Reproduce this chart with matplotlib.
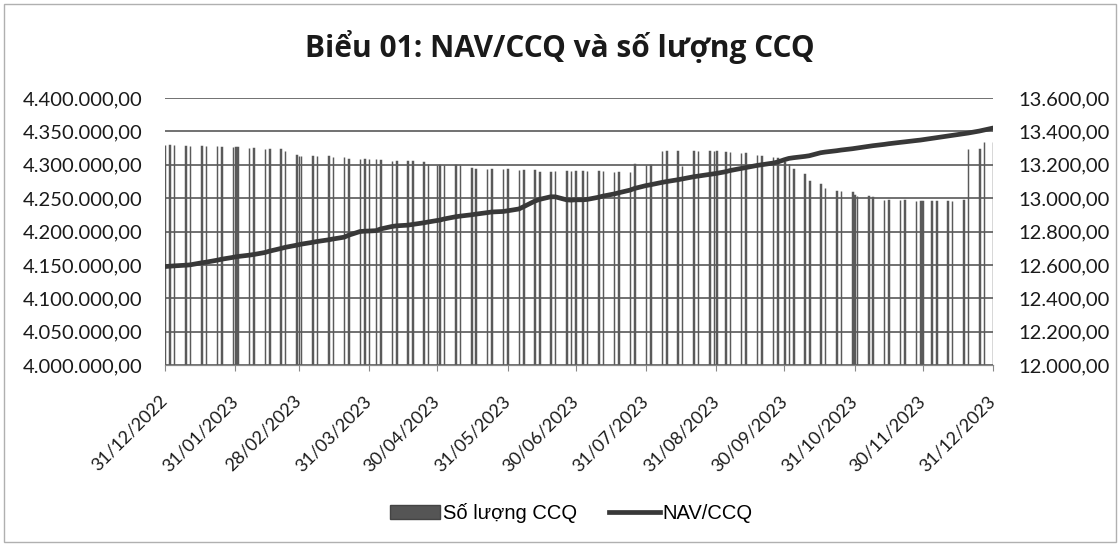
import numpy as np
import pandas as pd
import matplotlib
matplotlib.use("Agg")
import matplotlib.pyplot as plt
import matplotlib.dates as mdates
from matplotlib.ticker import FuncFormatter, MultipleLocator
from matplotlib.patches import Patch, Rectangle
from matplotlib.lines import Line2D

# ngay bao cao (thu 2, thu 4 va cuoi thang)
ngay = [
    "2022-12-31",
    "2023-01-02", "2023-01-04", "2023-01-09", "2023-01-11", "2023-01-16", "2023-01-18",
    "2023-01-23", "2023-01-25", "2023-01-30", "2023-01-31",
    "2023-02-01", "2023-02-06", "2023-02-08", "2023-02-13", "2023-02-15", "2023-02-20",
    "2023-02-22", "2023-02-27", "2023-02-28",
    "2023-03-01", "2023-03-06", "2023-03-08", "2023-03-13", "2023-03-15", "2023-03-20",
    "2023-03-22", "2023-03-27", "2023-03-29", "2023-03-31",
    "2023-04-03", "2023-04-05", "2023-04-10", "2023-04-12", "2023-04-17", "2023-04-19",
    "2023-04-24", "2023-04-26", "2023-04-30",
    "2023-05-01", "2023-05-03", "2023-05-08", "2023-05-10", "2023-05-15", "2023-05-17",
    "2023-05-22", "2023-05-24", "2023-05-29", "2023-05-31",
    "2023-06-05", "2023-06-07", "2023-06-12", "2023-06-14", "2023-06-19", "2023-06-21",
    "2023-06-26", "2023-06-28", "2023-06-30",
    "2023-07-03", "2023-07-05", "2023-07-10", "2023-07-12", "2023-07-17", "2023-07-19",
    "2023-07-24", "2023-07-26", "2023-07-31",
    "2023-08-02", "2023-08-07", "2023-08-09", "2023-08-14", "2023-08-16", "2023-08-21",
    "2023-08-23", "2023-08-28", "2023-08-30", "2023-08-31",
    "2023-09-04", "2023-09-06", "2023-09-11", "2023-09-13", "2023-09-18", "2023-09-20",
    "2023-09-25", "2023-09-27", "2023-09-30",
    "2023-10-02", "2023-10-04", "2023-10-09", "2023-10-11", "2023-10-16", "2023-10-18",
    "2023-10-23", "2023-10-25", "2023-10-30", "2023-10-31",
    "2023-11-01", "2023-11-06", "2023-11-08", "2023-11-13", "2023-11-15", "2023-11-20",
    "2023-11-22", "2023-11-27", "2023-11-29", "2023-11-30",
    "2023-12-04", "2023-12-06", "2023-12-11", "2023-12-13", "2023-12-18", "2023-12-20",
    "2023-12-25", "2023-12-27", "2023-12-31",
]

so_luong_ccq = [
    4330000,
    4330000, 4330000, 4328500, 4328500, 4327500, 4327500, 4327500, 4327000, 4326500, 4326500,
    4326500, 4325000, 4325000, 4324000, 4324000, 4323500, 4321000, 4314000, 4313500,
    4313500, 4313000, 4313000, 4313000, 4312000, 4311500, 4309000, 4308500, 4308500, 4308500,
    4308000, 4307500, 4306000, 4306000, 4305000, 4305000, 4303500, 4301000, 4300000,
    4300000, 4300000, 4299500, 4299500, 4295000, 4293500, 4293500, 4293500, 4293500, 4293500,
    4292000, 4292000, 4292000, 4288500, 4288500, 4290000, 4290000, 4290000, 4290000,
    4290000, 4290000, 4290000, 4290000, 4288500, 4288500, 4288500, 4301000, 4300000,
    4300000, 4321000, 4321000, 4321000, 4298000, 4320000, 4320000, 4320000, 4320000, 4320000,
    4319000, 4319000, 4318000, 4317000, 4314000, 4313000, 4312000, 4310000, 4303500,
    4301000, 4293500, 4286000, 4276000, 4271000, 4265000, 4261000, 4261000, 4258500, 4255000,
    4253500, 4253500, 4251000, 4247000, 4247000, 4247000, 4247000, 4246000, 4246000, 4246000,
    4246000, 4246000, 4246000, 4246000, 4247000, 4323500, 4323500, 4334000, 4334500,
]

nav_ccq = [
    12590,
    12592, 12594, 12598, 12600, 12612, 12616, 12628, 12634, 12645, 12648,
    12650, 12658, 12662, 12674, 12682, 12698, 12705, 12718, 12721,
    12724, 12735, 12740, 12750, 12755, 12766, 12778, 12800, 12802, 12803,
    12805, 12815, 12830, 12834, 12838, 12842, 12852, 12857, 12866,
    12868, 12875, 12888, 12892, 12900, 12904, 12913, 12917, 12920, 12924,
    12935, 12948, 12982, 12992, 13008, 13008, 12990, 12988, 12990,
    12990, 12992, 13005, 13012, 13025, 13032, 13048, 13058, 13075,
    13080, 13094, 13099, 13110, 13115, 13128, 13132, 13142, 13146, 13148,
    13158, 13165, 13178, 13183, 13196, 13200, 13210, 13216, 13230,
    13238, 13242, 13250, 13254, 13272, 13276, 13284, 13288, 13296, 13298,
    13300, 13310, 13314, 13322, 13326, 13334, 13337, 13345, 13348, 13350,
    13358, 13362, 13372, 13376, 13386, 13390, 13402, 13408, 13420,
]

cuoi_thang = ["2022-12-31", "2023-01-31", "2023-02-28", "2023-03-31", "2023-04-30",
              "2023-05-31", "2023-06-30", "2023-07-31", "2023-08-31", "2023-09-30",
              "2023-10-31", "2023-11-30", "2023-12-31"]

x = pd.to_datetime(ngay)
ticks = pd.to_datetime(cuoi_thang)


def vn_fmt(v, pos=None):
    s = f"{v:,.2f}"
    return s.replace(",", "X").replace(".", ",").replace("X", ".")


fig = plt.figure(figsize=(11.2, 5.46), dpi=100)
ax = fig.add_axes([0.1473, 0.3315, 0.7393, 0.489])
ax2 = ax.twinx()

ax.set_axisbelow(True)
ax.yaxis.grid(True, color="#666666", linewidth=1.3)
ax.bar(x, so_luong_ccq, width=0.25, facecolor="#808080", edgecolor="#5a5a5a",
       linewidth=1.05, zorder=2)
ax.set_ylim(4000000, 4400000)
ax.yaxis.set_major_locator(MultipleLocator(50000))
ax.yaxis.set_major_formatter(FuncFormatter(vn_fmt))

ax2.plot(x, nav_ccq, color="#383838", linewidth=3.4, solid_capstyle="round")
ax2.set_ylim(12000, 13600)
ax2.yaxis.set_major_locator(MultipleLocator(200))
ax2.yaxis.set_major_formatter(FuncFormatter(vn_fmt))

ax.set_xlim(ticks[0], ticks[-1])
ax.set_xticks(ticks)
ax.xaxis.set_major_formatter(mdates.DateFormatter("%d/%m/%Y"))

for a in (ax, ax2):
    for s in ("top", "left", "right"):
        a.spines[s].set_visible(False)
    a.spines["bottom"].set_color("#888888")
    a.tick_params(axis="y", length=0)

ax.tick_params(axis="y", pad=16, labelsize=14.5, labelcolor="#1a1a1a")
ax2.tick_params(axis="y", pad=18, labelsize=14.5, labelcolor="#1a1a1a")
ax.tick_params(axis="x", length=4, color="#888888", labelsize=13, pad=20,
               labelcolor="#1a1a1a")
for lbl in ax.get_yticklabels() + ax2.get_yticklabels() + ax.get_xticklabels():
    lbl.set_fontfamily(["Lato", "DejaVu Sans"])
for lbl in ax.get_xticklabels():
    lbl.set_rotation(45)
    lbl.set_ha("right")
    lbl.set_va("center")
    lbl.set_rotation_mode("anchor")

fig.text(0.5, 1 - 47 / 546, "Biểu 01: NAV/CCQ và số lượng CCQ", ha="center",
         va="center", fontsize=21.5, fontweight="bold", color="#1a1a1a",
         family=["Open Sans", "DejaVu Sans"])

handles = [Patch(facecolor="#555555", edgecolor="#444444"),
           Line2D([0], [0], color="#383838", linewidth=3.4)]
fig.legend(handles, ["Số lượng CCQ", "NAV/CCQ"], loc="center",
           bbox_to_anchor=(0.51, 1 - 513 / 546), ncol=2, frameon=False,
           prop={"family": "Liberation Sans", "size": 14.5}, handlelength=2.5,
           columnspacing=1.6, handletextpad=0.15)

fig.patches.append(Rectangle((0.004, 0.008), 0.992, 0.984, transform=fig.transFigure,
                             fill=False, edgecolor="#b0b0b0", linewidth=1.0))

fig.savefig("out.png", dpi=100)
